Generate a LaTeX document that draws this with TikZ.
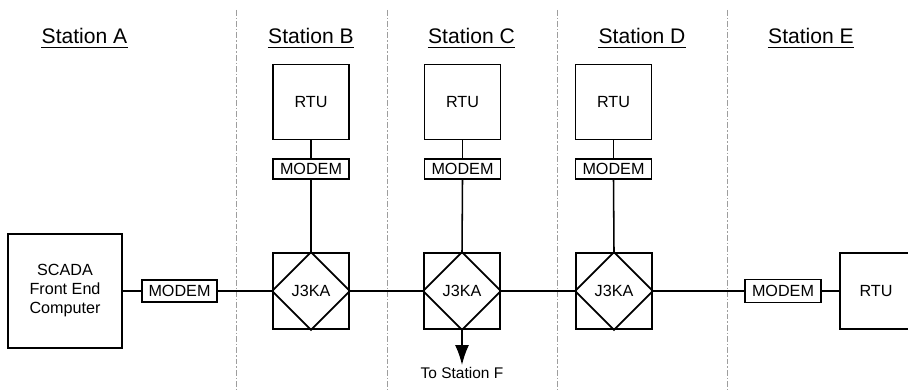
\documentclass[tikz,border=0pt]{standalone}
\usepackage{fontspec}
\setmainfont{Liberation Sans}
\usepackage{tikz}
\usetikzlibrary{arrows.meta, calc}
\definecolor{dividerGray}{rgb}{0.62, 0.62, 0.62}
\tikzset{
	box/.style={draw=black, line width=1.3pt, fill=white, inner sep=0pt, align=center, font=\fontsize{11.5}{13.5}\selectfont},
	modembox/.style={box, minimum width=1.9cm, minimum height=0.5cm},
	rtubox/.style={box, minimum width=1.9cm, minimum height=1.875cm},
	jbox/.style={box, minimum size=1.9cm},
	link/.style={line width=1.1pt, black},
	divider/.style={dividerGray, line width=0.7pt, dash pattern=on 4pt off 1.5pt on 1pt off 1.5pt},
	stationlbl/.style={inner sep=0pt, font=\fontsize{15}{18}\selectfont}
}
\def\scale{1}

\begin{document}
\begin{tikzpicture}[scale=\scale]
	\useasboundingbox (0,0) rectangle (22.7,9.725);
	\clip (0,0) rectangle (22.7,9.725);

	% station dividers
	\foreach \x in {5.9, 9.675, 13.925, 18.175}
		\draw[divider] (\x, 9.475) -- (\x, 0);

	% station titles
	\node[stationlbl] (lblA) at (2.1125, 8.825) {Station A};
	\node[stationlbl] (lblB) at (7.775, 8.825) {Station B};
	\node[stationlbl] (lblC) at (11.7875, 8.825) {Station C};
	\node[stationlbl] (lblD) at (16.05, 8.825) {Station D};
	\node[stationlbl] (lblE) at (20.275, 8.825) {Station E};
	\foreach \n in {lblA, lblB, lblC, lblD, lblE}
		\draw[line width=0.9pt] ([yshift=-2.8pt]\n.base west) -- ([yshift=-2.8pt]\n.base east);

	% station A
	\node[box, minimum size=2.85cm] (scada) at (1.625, 2.45) {SCADA\\Front End\\Computer};
	\node[modembox, minimum width=1.875cm, minimum height=0.55cm] (modemA) at (4.4875, 2.45) {MODEM};

	% stations B, C, D
	\node[rtubox] (rtuB) at (7.775, 7.175) {RTU};
	\node[rtubox] (rtuC) at (11.5625, 7.175) {RTU};
	\node[rtubox] (rtuD) at (15.3375, 7.175) {RTU};
	\node[modembox] (modemB) at (7.775, 5.5) {MODEM};
	\node[modembox] (modemC) at (11.5625, 5.5) {MODEM};
	\node[modembox] (modemD) at (15.3375, 5.5) {MODEM};
	\node[jbox] (jB) at (7.775, 2.45) {J3KA};
	\node[jbox] (jC) at (11.55, 2.45) {J3KA};
	\node[jbox] (jD) at (15.35, 2.45) {J3KA};
	\foreach \j in {jB, jC, jD}
		\draw[line width=1.3pt, line join=miter] (\j.north) -- (\j.east) -- (\j.south) -- (\j.west) -- cycle;

	% station E
	\node[modembox, minimum height=0.575cm] (modemE) at (19.575, 2.45) {MODEM};
	\node[rtubox, minimum height=1.9cm] (rtuE) at (21.95, 2.45) {\hspace*{-0.1cm}RTU};

	% trunk line
	\draw[link] (scada.east) -- (modemA.west);
	\draw[link] (modemA.east) -- (jB.west);
	\draw[link] (jB.east) -- (jC.west);
	\draw[link] (jC.east) -- (jD.west);
	\draw[link] (jD.east) -- (modemE.west);
	\draw[link] (modemE.east) -- (rtuE.west);

	% drops
	\foreach \s in {B, C, D} {
		\draw[link] (rtu\s.south) -- (modem\s.north);
		\draw[link] (modem\s.south) -- (j\s.north);
	}

	% branch to station F
	\coordinate (toF) at (11.55, 0.6);
	\draw[link, -{Latex[length=0.5cm, width=0.35cm]}] (jC.south) -- (toF);
	\node[inner sep=0pt, font=\fontsize{11}{13}\selectfont, anchor=north] (lblF) at (11.55, 0.55) {To Station F};
\end{tikzpicture}
\end{document}
